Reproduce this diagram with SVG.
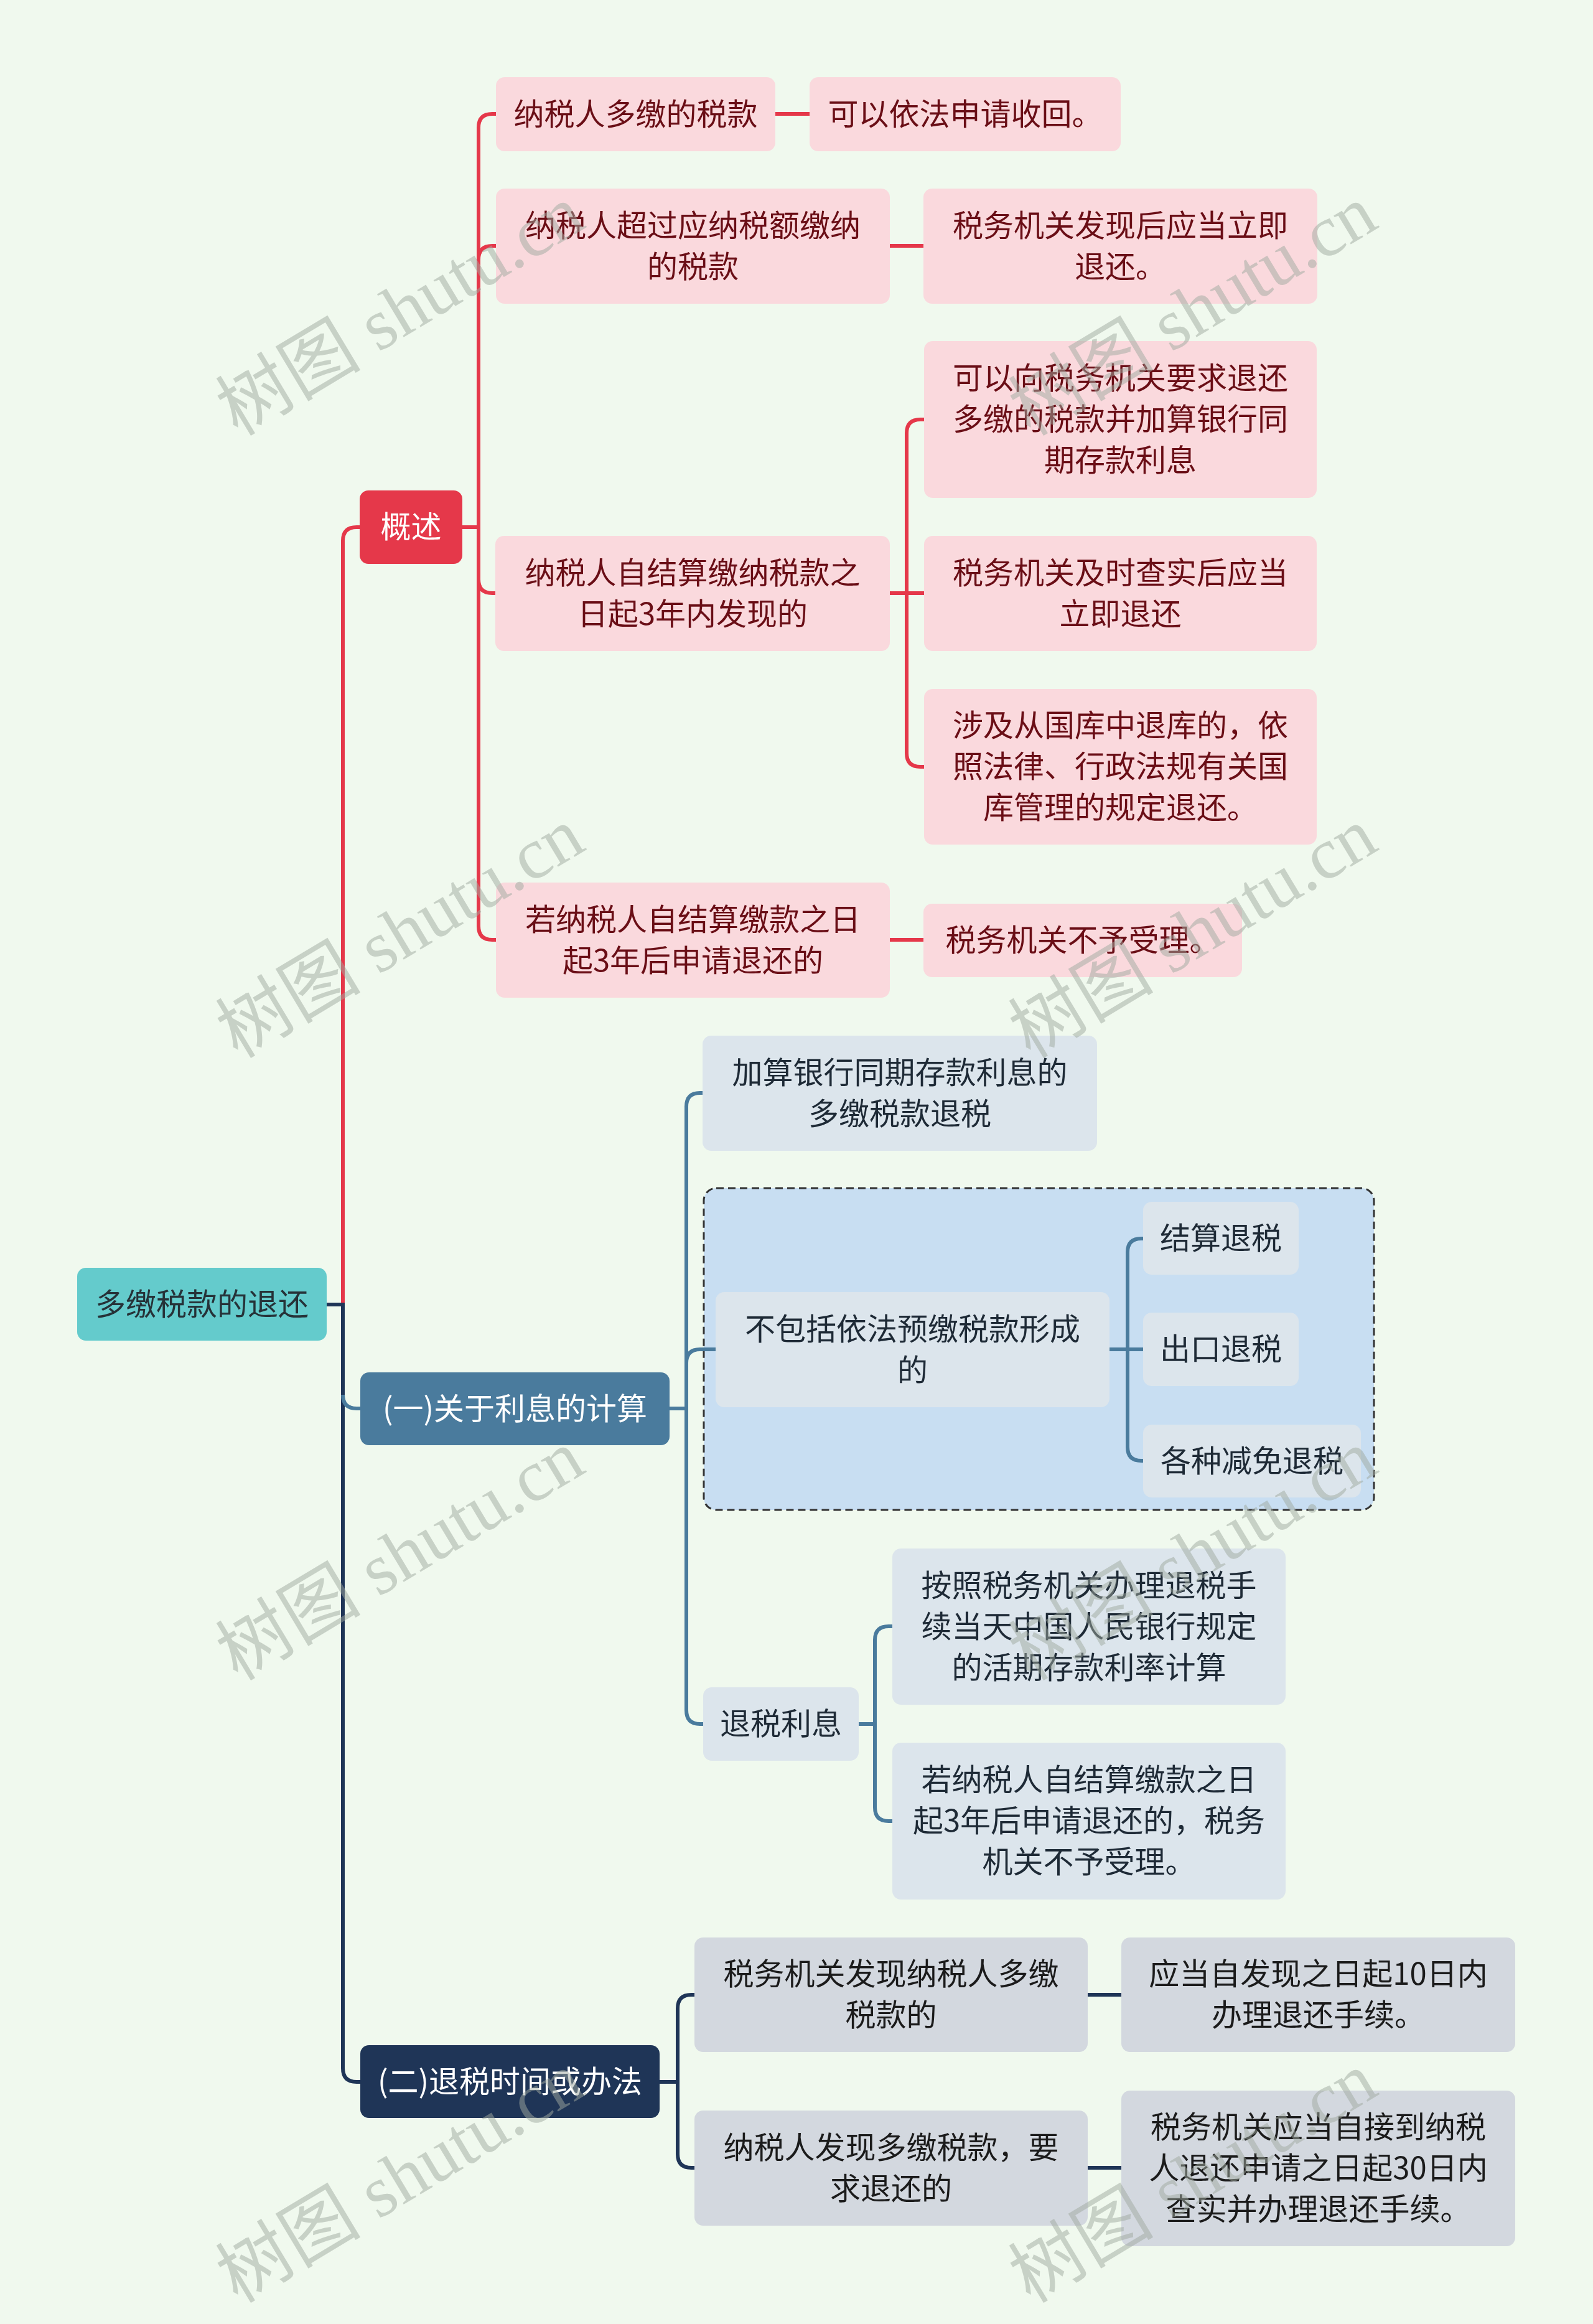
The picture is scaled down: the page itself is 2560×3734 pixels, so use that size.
<svg xmlns="http://www.w3.org/2000/svg" width="2560" height="3734" viewBox="0 0 2560 3734">
<style>
text{font-family:"Noto Sans CJK SC","Noto Sans",sans-serif;font-size:49px;text-anchor:middle}
.root rect{fill:#64cbcc}
.root text{fill:#263238}
.l1r rect{fill:#e5384a}
.l1b rect{fill:#4a7b9d}
.l1n rect{fill:#1f3557}
.l1r text,.l1b text,.l1n text{fill:#ffffff}
.pink rect{fill:#fad9dd}
.pink text{fill:#6a0e16}
.blue rect{fill:#dce5ec}
.blue text{fill:#1e2a36}
.gray rect{fill:#d3d8df}
.gray text{fill:#1b1b1b}
.c{fill:none;stroke-width:6;stroke-linecap:butt}
.cr{stroke:#e5384a}
.cb{stroke:#4a7b9d}
.cn{stroke:#1f3557}
.wm{font-family:"Liberation Serif","Noto Sans CJK SC",serif;font-size:117px;fill:#a0aaa0;opacity:0.5;text-anchor:start}
</style>
<rect width="2560" height="3734" fill="#f0f9ee"/>

<rect id="container" x="1131" y="1909" width="1077" height="517" rx="20" fill="#c8def2" stroke="#333" stroke-width="3" stroke-dasharray="12 7"/>

<g id="connectors">
  <path class="c cr" d="M551 2096 V869 Q551 847 573 847 H578"/>
  <path class="c cn" d="M525 2096 H551 V3323 Q551 3345 573 3345 H579"/>
  <path class="c cb" d="M551 2241 Q551 2263 573 2263 H579"/>

  <path class="c cr" d="M743 847 H769 V205 Q769 183 791 183 H797"/>
  <path class="c cr" d="M743 847 H769 V417 Q769 395 791 395 H797"/>
  <path class="c cr" d="M743 847 H769 V931 Q769 953 791 953 H797"/>
  <path class="c cr" d="M743 847 H769 V1488 Q769 1510 791 1510 H797"/>
  <path class="c cr" d="M1246 183 H1301"/>
  <path class="c cr" d="M1430 395 H1484"/>
  <path class="c cr" d="M1430 953 H1485"/>
  <path class="c cr" d="M1457 953 V696 Q1457 674 1479 674 H1485"/>
  <path class="c cr" d="M1457 953 V1210 Q1457 1232 1479 1232 H1485"/>
  <path class="c cr" d="M1430 1510 H1484"/>

  <path class="c cb" d="M1076 2263 H1103 V1778 Q1103 1756 1125 1756 H1129"/>
  <path class="c cb" d="M1076 2263 H1103 V2190 Q1103 2168 1125 2168 H1150"/>
  <path class="c cb" d="M1076 2263 H1103 V2748 Q1103 2770 1125 2770 H1130"/>
  <path class="c cb" d="M1783 2168 H1837"/>
  <path class="c cb" d="M1812 2168 V2012 Q1812 1990 1834 1990 H1837"/>
  <path class="c cb" d="M1812 2168 V2325 Q1812 2347 1834 2347 H1837"/>
  <path class="c cb" d="M1380 2770 H1406 V2635 Q1406 2613 1428 2613 H1434"/>
  <path class="c cb" d="M1380 2770 H1406 V2904 Q1406 2926 1428 2926 H1434"/>

  <path class="c cn" d="M1060 3345 H1089 V3227 Q1089 3205 1111 3205 H1116"/>
  <path class="c cn" d="M1060 3345 H1089 V3461 Q1089 3483 1111 3483 H1116"/>
  <path class="c cn" d="M1748 3205 H1802"/>
  <path class="c cn" d="M1748 3483 H1802"/>
</g>

<g id="root" class="root"><rect x="124" y="2037" width="401" height="117" rx="14"/><text x="324.5" y="2113">多缴税款的退还</text></g>

<g id="overview" class="l1r"><rect x="578" y="788" width="165" height="118" rx="14"/><text x="660.5" y="864">概述</text></g>
<g id="interest" class="l1b"><rect x="579" y="2205" width="497" height="117" rx="14"/><text x="827.5" y="2281">(一)关于利息的计算</text></g>
<g id="timing" class="l1n"><rect x="579" y="3286" width="481" height="117" rx="14"/><text x="819.5" y="3362">(二)退税时间或办法</text></g>

<g id="a1" class="pink"><rect x="797" y="124" width="449" height="119" rx="14"/><text x="1021.5" y="201">纳税人多缴的税款</text></g>
<g id="a1c" class="pink"><rect x="1301" y="124" width="500" height="119" rx="14"/><text x="1551" y="201">可以依法申请收回。</text></g>
<g id="a2" class="pink"><rect x="797" y="303" width="633" height="185" rx="14"/><text x="1113.5" y="380">纳税人超过应纳税额缴纳</text><text x="1113.5" y="446">的税款</text></g>
<g id="a2c" class="pink"><rect x="1484" y="303" width="633" height="185" rx="14"/><text x="1800.5" y="380">税务机关发现后应当立即</text><text x="1800.5" y="446">退还。</text></g>
<g id="a3" class="pink"><rect x="796" y="861" width="634" height="185" rx="14"/><text x="1113" y="938">纳税人自结算缴纳税款之</text><text x="1113" y="1004">日起3年内发现的</text></g>
<g id="a3c1" class="pink"><rect x="1485" y="548" width="631" height="252" rx="14"/><text x="1800.5" y="625">可以向税务机关要求退还</text><text x="1800.5" y="691">多缴的税款并加算银行同</text><text x="1800.5" y="757">期存款利息</text></g>
<g id="a3c2" class="pink"><rect x="1485" y="861" width="631" height="185" rx="14"/><text x="1800.5" y="938">税务机关及时查实后应当</text><text x="1800.5" y="1004">立即退还</text></g>
<g id="a3c3" class="pink"><rect x="1485" y="1107" width="631" height="250" rx="14"/><text x="1800.5" y="1183">涉及从国库中退库的，依</text><text x="1800.5" y="1249">照法律、行政法规有关国</text><text x="1800.5" y="1315">库管理的规定退还。</text></g>
<g id="a4" class="pink"><rect x="797" y="1418" width="633" height="185" rx="14"/><text x="1113.5" y="1495">若纳税人自结算缴款之日</text><text x="1113.5" y="1561">起3年后申请退还的</text></g>
<g id="a4c" class="pink"><rect x="1484" y="1452" width="512" height="118" rx="14"/><text x="1740" y="1528">税务机关不予受理。</text></g>

<g id="b1" class="blue"><rect x="1129" y="1664" width="634" height="185" rx="14"/><text x="1446" y="1741">加算银行同期存款利息的</text><text x="1446" y="1807">多缴税款退税</text></g>
<g id="b2" class="blue"><rect x="1150" y="2076" width="633" height="185" rx="14"/><text x="1466.5" y="2153">不包括依法预缴税款形成</text><text x="1466.5" y="2219">的</text></g>
<g id="b2c1" class="blue"><rect x="1837" y="1931" width="250" height="117" rx="14"/><text x="1962" y="2007">结算退税</text></g>
<g id="b2c2" class="blue"><rect x="1837" y="2109" width="250" height="118" rx="14"/><text x="1962" y="2185">出口退税</text></g>
<g id="b2c3" class="blue"><rect x="1837" y="2289" width="350" height="117" rx="14"/><text x="2012" y="2365">各种减免退税</text></g>
<g id="b3" class="blue"><rect x="1130" y="2711" width="250" height="118" rx="14"/><text x="1255" y="2787">退税利息</text></g>
<g id="b3c1" class="blue"><rect x="1434" y="2488" width="632" height="251" rx="14"/><text x="1750" y="2565">按照税务机关办理退税手</text><text x="1750" y="2631">续当天中国人民银行规定</text><text x="1750" y="2697">的活期存款利率计算</text></g>
<g id="b3c2" class="blue"><rect x="1434" y="2800" width="632" height="252" rx="14"/><text x="1750" y="2877">若纳税人自结算缴款之日</text><text x="1750" y="2943">起3年后申请退还的，税务</text><text x="1750" y="3009">机关不予受理。</text></g>

<g id="c1" class="gray"><rect x="1116" y="3113" width="632" height="184" rx="14"/><text x="1432" y="3189">税务机关发现纳税人多缴</text><text x="1432" y="3255">税款的</text></g>
<g id="c1c" class="gray"><rect x="1802" y="3113" width="633" height="184" rx="14"/><text x="2118.5" y="3189">应当自发现之日起10日内</text><text x="2118.5" y="3255">办理退还手续。</text></g>
<g id="c2" class="gray"><rect x="1116" y="3391" width="632" height="185" rx="14"/><text x="1432" y="3468">纳税人发现多缴税款，要</text><text x="1432" y="3534">求退还的</text></g>
<g id="c2c" class="gray"><rect x="1802" y="3359" width="633" height="250" rx="14"/><text x="2118.5" y="3435">税务机关应当自接到纳税</text><text x="2118.5" y="3501">人退还申请之日起30日内</text><text x="2118.5" y="3567">查实并办理退还手续。</text></g>

<g id="watermarks">
  <text class="wm" transform="translate(382,702) rotate(-31)">树图 shutu.cn</text>
  <text class="wm" transform="translate(1656,702) rotate(-31)">树图 shutu.cn</text>
  <text class="wm" transform="translate(382,1702) rotate(-31)">树图 shutu.cn</text>
  <text class="wm" transform="translate(1656,1702) rotate(-31)">树图 shutu.cn</text>
  <text class="wm" transform="translate(382,2702) rotate(-31)">树图 shutu.cn</text>
  <text class="wm" transform="translate(1656,2702) rotate(-31)">树图 shutu.cn</text>
  <text class="wm" transform="translate(382,3702) rotate(-31)">树图 shutu.cn</text>
  <text class="wm" transform="translate(1656,3702) rotate(-31)">树图 shutu.cn</text>
</g>
</svg>
